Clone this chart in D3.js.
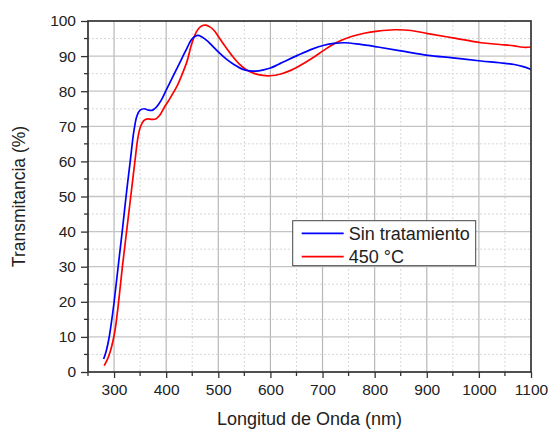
<!DOCTYPE html>
<html>
<head>
<meta charset="utf-8">
<script src="https://cdn.jsdelivr.net/npm/d3@7"></script>
<style>
  body { margin: 0; background: #fff; }
  text { font-family: "Liberation Sans", Arial, sans-serif; fill: #222; }
</style>
</head>
<body>
<div id="chart"></div>
<script>
// values
var wlBlue = [280, 285, 290, 295, 300, 308, 316, 323, 331, 338, 344, 350, 358, 366, 374, 382, 390, 400, 410, 420, 430, 440, 448, 455, 461, 468, 480, 490, 500, 515, 530, 546, 560, 572, 585, 600, 615, 630, 652, 680, 703, 722, 742, 770, 806, 850, 902, 950, 1004, 1040, 1068, 1085, 1100];
var tBlue  = [3.7, 6.0, 9.4, 14.2, 19.8, 30.2, 40.5, 50, 60, 68.6, 73, 74.6, 75.0, 74.6, 74.6, 75.6, 77.3, 80.3, 83.3, 86.3, 89.3, 92.3, 94.6, 95.6, 95.9, 95.5, 94.2, 92.7, 91.2, 89.2, 87.6, 86.3, 85.8, 85.7, 86.0, 86.6, 87.6, 88.7, 90.2, 92.0, 93.1, 93.6, 93.8, 93.4, 92.6, 91.5, 90.2, 89.5, 88.6, 88.1, 87.6, 87.0, 86.2];

var wlRed = [281, 287, 293, 298, 302, 308, 316, 324, 332, 340, 346, 351, 357, 364, 372, 380, 388, 396, 405, 420, 430, 440, 448, 455, 462, 470, 476, 483, 492, 500, 512, 527, 540, 555, 570, 585, 599, 620, 640, 652, 680, 703, 726, 754, 780, 806, 838, 870, 902, 950, 1004, 1040, 1068, 1080, 1090, 1100];
var tRed  = [1.8, 3.5, 6.0, 8.9, 12.0, 19.0, 30, 40, 50, 60, 67, 70, 71.6, 72.1, 72.0, 72.1, 73.2, 75.3, 77.4, 81.2, 84.6, 88.5, 93.0, 96.0, 97.8, 98.7, 98.8, 98.4, 97.3, 95.6, 93.0, 90.0, 87.8, 86.0, 85.0, 84.5, 84.4, 84.9, 86.0, 86.9, 89.4, 91.7, 93.8, 95.5, 96.5, 97.1, 97.5, 97.3, 96.4, 95.2, 93.8, 93.3, 92.9, 92.6, 92.5, 92.6];

var xTicks = [300, 400, 500, 600, 700, 800, 900, 1000, 1100];
var yTicks = [0, 10, 20, 30, 40, 50, 60, 70, 80, 90, 100];
var seriesNames = ["Sin tratamiento", "450 °C"];
var seriesColors = ["#0000ff", "#ff0000"];

var W = 550, H = 431;
var margin = {top: 21, right: 19, bottom: 59, left: 88};
var width = W - margin.left - margin.right,
    height = H - margin.top - margin.bottom;

var x = d3.scaleLinear().domain([250, 1100]).range([0, width]);
var y = d3.scaleLinear().domain([0, 100]).range([height, 0]);

var svg = d3.select("#chart").append("svg")
    .attr("width", W).attr("height", H)
  .append("g")
    .attr("transform", "translate(" + margin.left + "," + margin.top + ")");

// minor grid (dotted)
var xMinor = d3.range(250, 1100, 100);
var yMinor = d3.range(5, 100, 10);
svg.append("g").selectAll("line").data(xMinor).enter().append("line")
    .attr("x1", d => x(d)).attr("x2", d => x(d)).attr("y1", 0).attr("y2", height)
    .attr("stroke", "#d8d8d8").attr("stroke-dasharray", "2,2");
svg.append("g").selectAll("line").data(yMinor).enter().append("line")
    .attr("y1", d => y(d)).attr("y2", d => y(d)).attr("x1", 0).attr("x2", width)
    .attr("stroke", "#d8d8d8").attr("stroke-dasharray", "2,2");

// major grid
svg.append("g").selectAll("line").data(xTicks.slice(0, -1)).enter().append("line")
    .attr("x1", d => x(d)).attr("x2", d => x(d)).attr("y1", 0).attr("y2", height)
    .attr("stroke", "#b8b8b8").attr("stroke-width", 1.2);
svg.append("g").selectAll("line").data(yTicks.slice(1, -1)).enter().append("line")
    .attr("y1", d => y(d)).attr("y2", d => y(d)).attr("x1", 0).attr("x2", width)
    .attr("stroke", "#c4c4c4").attr("stroke-width", 1.3);

// curves
var line = d3.line().curve(d3.curveCatmullRom.alpha(0.5))
    .x(d => x(d[0])).y(d => y(d[1]));

var blueData = wlBlue.map((w, i) => [w, tBlue[i]]);
var redData = wlRed.map((w, i) => [w, tRed[i]]);

svg.append("path").datum(redData).attr("d", line)
    .attr("fill", "none").attr("stroke", seriesColors[1]).attr("stroke-width", 1.7);
svg.append("path").datum(blueData).attr("d", line)
    .attr("fill", "none").attr("stroke", seriesColors[0]).attr("stroke-width", 1.7);

// axes
var xAxis = d3.axisBottom(x).tickValues(xTicks).tickFormat(d3.format("d"))
    .tickSize(6).tickSizeOuter(0).tickPadding(6);
var yAxis = d3.axisLeft(y).tickValues(yTicks).tickFormat(d3.format("d"))
    .tickSize(7).tickSizeOuter(0).tickPadding(5);

var gx = svg.append("g").attr("transform", "translate(0," + height + ")").call(xAxis);
var gy = svg.append("g").call(yAxis);
[gx, gy].forEach(g => {
  g.selectAll("text").style("font-size", "15.5px").attr("fill", "#222");
  g.selectAll("line").attr("stroke", "#333").attr("stroke-width", 1.3);
  g.select(".domain").remove();
});

// minor ticks
svg.append("g").selectAll("line").data(xMinor).enter().append("line")
    .attr("x1", d => x(d)).attr("x2", d => x(d)).attr("y1", height).attr("y2", height + 4)
    .attr("stroke", "#333").attr("stroke-width", 1.3);
svg.append("g").selectAll("line").data(yMinor).enter().append("line")
    .attr("y1", d => y(d)).attr("y2", d => y(d)).attr("x1", 0).attr("x2", -4)
    .attr("stroke", "#333").attr("stroke-width", 1.3);

// frame
svg.append("rect").attr("x", 0).attr("y", 0).attr("width", width).attr("height", height)
    .attr("fill", "none").attr("stroke", "#333").attr("stroke-width", 1.7);

// axis titles
svg.append("text")
    .attr("x", width / 2).attr("y", height + 53)
    .style("font-size", "18px").style("text-anchor", "middle")
    .text("Longitud de Onda (nm)");
svg.append("text")
    .attr("transform", "translate(" + (-63) + "," + (height / 2) + ") rotate(-90)")
    .style("font-size", "17.5px").style("text-anchor", "middle")
    .text("Transmitancia (%)");

// legend
var lg = svg.append("g").attr("transform", "translate(204.7,199.7)");
lg.append("rect").attr("width", 183).attr("height", 45)
    .attr("fill", "#fff").attr("stroke", "#444").attr("stroke-width", 1);
seriesNames.forEach((n, i) => {
  lg.append("line").attr("x1", 9).attr("x2", 51)
      .attr("y1", 12.6 + i * 23.4).attr("y2", 12.6 + i * 23.4)
      .attr("stroke", seriesColors[i]).attr("stroke-width", 1.7);
  lg.append("text").attr("x", 56).attr("y", 12.6 + i * 23.4)
      .attr("dy", "0.35em").style("font-size", "18px").text(n);
});
</script>
</body>
</html>
